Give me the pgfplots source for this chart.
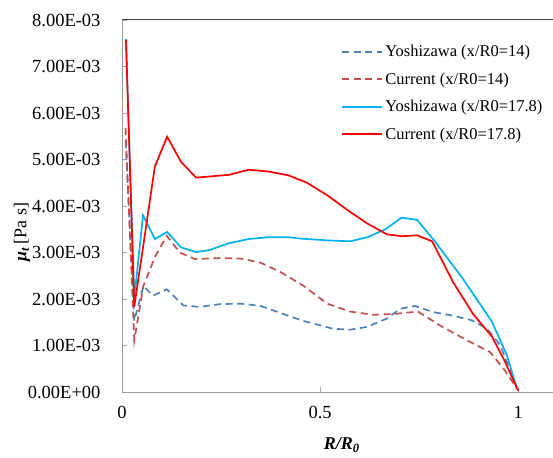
\documentclass[border=0pt]{standalone}
\usepackage{fontspec}
\setmainfont{Liberation Serif}
\usepackage{pgfplots}
\pgfplotsset{compat=1.18}
\definecolor{yosh14}{HTML}{4F81BD}
\definecolor{cur14}{HTML}{C0504D}
\definecolor{yosh178}{HTML}{00B0F0}
\definecolor{cur178}{HTML}{FF0000}
\begin{document}
\begin{tikzpicture}
\begin{axis}[
  scale only axis,
  width=431pt, height=372pt,
  xmin=0, xmax=1.088, ymin=0, ymax=8,
  axis lines=left,
  axis line style={-, draw=black!40, line width=0.8pt},
  tick style={draw=black!35, line width=0.8pt},
  tick align=inside,
  major tick length=5pt,
  xtick={0,0.5,1}, xticklabels={0,0.5,1},
  ytick={0,1,2,3,4,5,6,7,8},
  yticklabels={0.00E+00,1.00E-03,2.00E-03,3.00E-03,4.00E-03,5.00E-03,6.00E-03,7.00E-03,8.00E-03},
  /pgf/number format/assume math mode=true,
  tick label style={font=\fontsize{18.5}{21}\selectfont},
  yticklabel style={xshift=-18pt},
  xticklabel style={yshift=-11pt},
  xlabel={\textbf{\textit{R/R}}\textsubscript{\textbf{\textit{0}}}},
  ylabel={\textbf{\textit{μ}}\textsubscript{\textbf{\textit{t}}}\,[Pa s]},
  xlabel style={at={(axis description cs:0.51,-0.155)}, anchor=base, font=\fontsize{18}{20}\selectfont},
  ylabel style={at={(axis description cs:-0.232,0.43)}, anchor=center, font=\fontsize{18}{20}\selectfont},
  legend style={draw=none, fill=none, at={(axis description cs:0.504,0.943)}, anchor=north west,
    font=\fontsize{16.5}{19}\selectfont, row sep=10.5pt, inner sep=2pt},
  legend cell align=left,
  legend image code/.code={\draw[#1, line width=2pt] plot coordinates {(0pt,0pt) (20pt,0pt) (40pt,0pt)};},
]
\addplot[yosh14, line width=1.7pt, dash pattern=on 7pt off 4.5pt] coordinates {
(0.009,5.39) (0.031,1.53) (0.054,2.28) (0.078,2.07) (0.113,2.21) (0.155,1.86)
(0.197,1.83) (0.247,1.89) (0.30,1.90) (0.35,1.85) (0.40,1.70) (0.457,1.53)
(0.533,1.36) (0.576,1.34) (0.618,1.40) (0.669,1.58) (0.702,1.79) (0.74,1.85)
(0.785,1.72) (0.836,1.64) (0.884,1.54) (0.922,1.36) (0.955,1.00) (0.988,0.29) (1.0,0.03)
};
\addlegendentry{Yoshizawa (x/R0=14)}
\addplot[cur14, line width=1.7pt, dash pattern=on 7pt off 4.5pt] coordinates {
(0.009,5.68) (0.031,1.11) (0.054,2.28) (0.083,2.90) (0.113,3.36) (0.146,3.00)
(0.184,2.86) (0.247,2.88) (0.30,2.87) (0.35,2.78) (0.40,2.58) (0.457,2.29)
(0.518,1.90) (0.576,1.73) (0.634,1.66) (0.69,1.68) (0.747,1.73) (0.803,1.43)
(0.871,1.11) (0.929,0.86) (0.967,0.46) (0.997,0.07)
};
\addlegendentry{Current (x/R0=14)}
\addplot[yosh178, line width=1.7pt] coordinates {
(0.01,7.59) (0.031,2.0) (0.053,3.80) (0.083,3.29) (0.114,3.44) (0.149,3.11)
(0.187,3.01) (0.22,3.05) (0.27,3.20) (0.32,3.29) (0.37,3.33) (0.42,3.33)
(0.449,3.30) (0.52,3.26) (0.576,3.24) (0.62,3.33) (0.665,3.50) (0.706,3.75)
(0.745,3.70) (0.786,3.28) (0.861,2.43) (0.934,1.51) (0.972,0.78) (0.997,0.07)
};
\addlegendentry{Yoshizawa (x/R0=17.8)}
\addplot[cur178, line width=1.7pt] coordinates {
(0.01,7.57) (0.031,1.83) (0.083,4.85) (0.114,5.49) (0.149,4.95) (0.187,4.61)
(0.27,4.67) (0.32,4.78) (0.37,4.74) (0.42,4.66) (0.467,4.50) (0.52,4.22)
(0.568,3.92) (0.618,3.63) (0.669,3.39) (0.707,3.35) (0.745,3.37) (0.783,3.24)
(0.836,2.36) (0.886,1.68) (0.934,1.19) (0.967,0.65) (1.0,0.03)
};
\addlegendentry{Current (x/R0=17.8)}
\draw[black!75, line width=1pt] (rel axis cs:0,1) -- (rel axis cs:1,1);
\coordinate (BL) at (rel axis cs:0,0);
\coordinate (TR) at (rel axis cs:1,1);
\end{axis}
\pgfresetboundingbox
\path[use as bounding box] ([shift={(-122pt,-65pt)}]BL) rectangle ([shift={(0pt,20pt)}]TR);
\end{tikzpicture}
\end{document}
